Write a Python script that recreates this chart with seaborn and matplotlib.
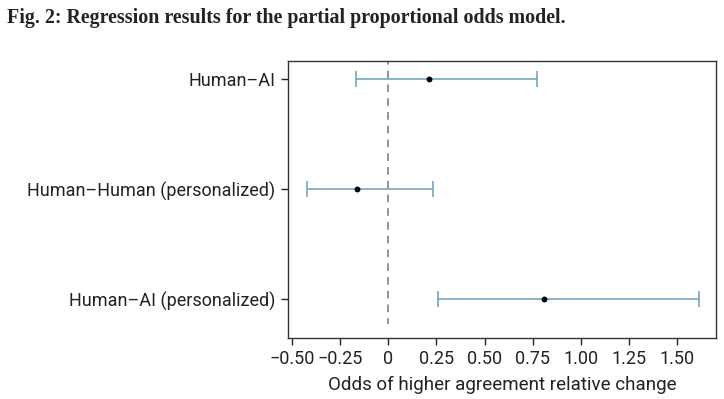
import pandas as pd
import numpy as np
import matplotlib.pyplot as plt
import seaborn as sns

groups = ["Human\u2013AI", "Human\u2013Human (personalized)", "Human\u2013AI (personalized)"]
estimate = [0.21, -0.16, 0.81]
ci_low = [-0.165, -0.42, 0.26]
ci_high = [0.77, 0.23, 1.61]

df = pd.DataFrame({"group": groups, "est": estimate, "lo": ci_low, "hi": ci_high})

sns.set_style("ticks")
plt.rcParams['font.family'] = ['Roboto', 'DejaVu Sans']

fig = plt.figure(figsize=(7.24, 3.99), dpi=100)
ax = fig.add_axes([288 / 724, 61 / 399, 428 / 724, 277 / 399])

ypos = np.arange(len(df))
ax.errorbar(df["est"], ypos, xerr=[df["est"] - df["lo"], df["hi"] - df["est"]],
            fmt="none", ecolor="#6a9fbf", elinewidth=1.1, capsize=6, capthick=1.1)
sns.scatterplot(data=df, x="est", y="group", color="black", s=18, zorder=5, ax=ax, linewidth=0)
ax.plot([0, 0], [-0.2, 2.22], ls=(0, (5, 4)), color="#777777", lw=1.1, zorder=1)

ax.set_ylim(2.35, -0.16)
ax.set_xlim(-0.52, 1.70)
xt = [-0.5, -0.25, 0, 0.25, 0.5, 0.75, 1.0, 1.25, 1.5]
ax.set_xticks(xt)
ax.set_xticklabels(["0" if v == 0 else f"{v:.2f}".replace("-", "\u2212") for v in xt])
ax.set_yticks(ypos)
ax.set_yticklabels(groups)
ax.tick_params(labelsize=13, colors="#222222", length=5, width=1)
ax.tick_params(axis="y", pad=4)
ax.set_ylabel("")
ax.set_xlabel("Odds of higher agreement relative change", fontsize=13.5, color="#222222", labelpad=6)
for s in ax.spines.values():
    s.set_color("#333333")
    s.set_linewidth(1)

fig.text(0.009, 0.955, "Fig. 2: Regression results for the partial proportional odds model.",
         fontsize=14.4, fontweight="bold", family="Liberation Serif", va="center", color="#222222")

fig.savefig("out.png", dpi=100)
